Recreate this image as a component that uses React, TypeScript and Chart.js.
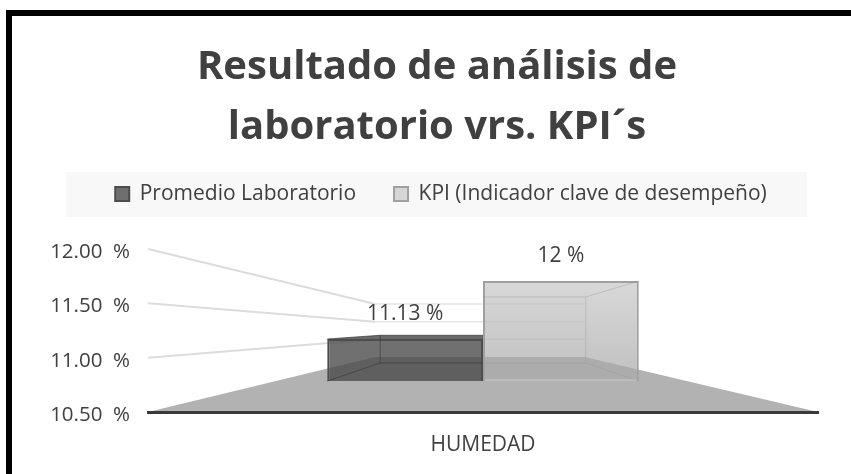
import React, { useEffect, useRef } from "react";
import { Chart, registerables } from "chart.js";

Chart.register(...registerables);

const categories = ["HUMEDAD"];
const seriesNames = ["Promedio Laboratorio", "KPI (Indicador clave de desempeño)"];
const promedio = [11.13];
const kpi = [12];
const valueLabels = ["11.13 %", "12 %"];
const gridValues = [12, 11.5, 11];
const titleLines = ["Resultado de análisis de", "laboratorio vrs. KPI´s"];
const FONT = "'Open Sans', sans-serif";
const TEXT = "#404040";

// Perspective of the 3D look, as fractions of the plot width
const WALL_LEFT = 0.339;
const WALL_RIGHT = 0.652;
const BOX_DEPTH = 0.34;

const perspective = {
  id: "perspective",
  afterLayout(chart: any) {
    // the legend sits slightly right of the title in the reference
    chart.legend.left += 4;
    chart.legend.right += 4;
  },
  beforeDraw(chart: any) {
    const { ctx } = chart;
    ctx.save();
    ctx.fillStyle = "#fff";
    ctx.fillRect(0, 0, chart.width, chart.height);
    // frame
    ctx.fillStyle = "#000";
    ctx.fillRect(6, 10, chart.width - 6, 6);
    ctx.fillRect(6, 10, 6, chart.height - 10);
    // legend band
    ctx.fillStyle = "#f8f8f8";
    ctx.fillRect(66, 172, 741, 45);
    ctx.restore();
  },
  beforeDatasetsDraw(chart: any) {
    const { ctx, chartArea: a, scales } = chart;
    const w = a.right - a.left;
    const xl = a.left + w * WALL_LEFT;
    const xr = a.left + w * WALL_RIGHT;
    const base = scales.y.min;
    ctx.save();
    // floor
    ctx.fillStyle = "#b2b2b2";
    ctx.beginPath();
    ctx.moveTo(a.left, scales.y.getPixelForValue(base));
    ctx.lineTo(a.right, scales.y.getPixelForValue(base));
    ctx.lineTo(xr, scales.yWall.getPixelForValue(base));
    ctx.lineTo(xl, scales.yWall.getPixelForValue(base));
    ctx.closePath();
    ctx.fill();
    // grid on the left wall and on the back wall
    gridValues.forEach((v) => {
      const y0 = scales.y.getPixelForValue(v);
      const y1 = scales.yWall.getPixelForValue(v);
      ctx.strokeStyle = "#dcdcdc";
      ctx.lineWidth = 2;
      ctx.beginPath();
      ctx.moveTo(a.left, y0);
      ctx.lineTo(xl, y1);
      ctx.stroke();
      ctx.strokeStyle = "#e6e6e6";
      ctx.lineWidth = 1.5;
      ctx.beginPath();
      ctx.moveTo(xl, y1);
      ctx.lineTo(xr, y1);
      ctx.stroke();
    });
    ctx.restore();
  },
  afterDatasetsDraw(chart: any) {
    const { ctx, scales } = chart;
    const base = scales.y.min;
    chart.data.datasets.forEach((ds: any, i: number) => {
      const bar = chart.getDatasetMeta(i).data[0];
      const center = (chart.getDatasetMeta(0).data[0].x + chart.getDatasetMeta(1).data[0].x) / 2;
      const half = bar.width / 2;
      const outer = i === 0 ? bar.x - half : bar.x + half;
      const inner = i === 0 ? bar.x + half : bar.x - half;
      const backOuter = outer + (center - outer) * BOX_DEPTH;
      const value = ds.data[0];
      const yTopFront = scales.yFront.getPixelForValue(value);
      const yBotFront = scales.yFront.getPixelForValue(base);
      const yTopBack = scales.yBack.getPixelForValue(value);
      const yBotBack = scales.yBack.getPixelForValue(base);
      ctx.save();
      if (i === 1) {
        // the light box darkens toward the floor
        const g = ctx.createLinearGradient(0, yTopFront, 0, yBotBack);
        g.addColorStop(0, "rgba(0,0,0,0)");
        g.addColorStop(1, "rgba(0,0,0,0.09)");
        ctx.fillStyle = g;
        ctx.fillRect(bar.x - half + 2, yTopFront + 2, bar.width - 4, yBotFront - yTopFront - 4);
      }
      ctx.strokeStyle = i === 0 ? "rgba(60,60,60,0.7)" : "rgba(150,150,150,0.4)";
      ctx.lineWidth = 1;
      ctx.beginPath();
      ctx.moveTo(outer, yTopFront);
      ctx.lineTo(backOuter, yTopBack);
      ctx.lineTo(inner, yTopBack);
      ctx.moveTo(outer, yBotFront);
      ctx.lineTo(backOuter, yBotBack);
      ctx.lineTo(inner, yBotBack);
      ctx.moveTo(backOuter, yTopBack);
      ctx.lineTo(backOuter, yBotBack);
      ctx.stroke();
      if (i === 0) {
        ctx.fillStyle = "rgba(55,55,55,0.75)";
        ctx.beginPath();
        ctx.moveTo(outer, yTopFront);
        ctx.lineTo(backOuter, yTopBack);
        ctx.lineTo(inner, yTopBack);
        ctx.lineTo(inner, yTopFront);
        ctx.closePath();
        ctx.fill();
      }
      // value label
      ctx.fillStyle = TEXT;
      ctx.font = `21px ${FONT}`;
      ctx.textAlign = "center";
      ctx.textBaseline = "middle";
      ctx.fillText(valueLabels[i], bar.x, yTopFront - 25);
      ctx.restore();
    });
  },
};

export default function App() {
  const ref = useRef<HTMLCanvasElement>(null);
  useEffect(() => {
    document.body.style.margin = "0";
    const chart = new Chart(ref.current!, {
      type: "bar",
      data: {
        labels: categories,
        datasets: [
          {
            label: seriesNames[0],
            data: promedio,
            base: 10.5,
            yAxisID: "yFront",
            backgroundColor: "rgba(72,72,72,0.78)",
            borderColor: "#4d4d4d",
            borderWidth: 2,
          },
          {
            label: seriesNames[1],
            data: kpi,
            base: 10.5,
            yAxisID: "yFront",
            backgroundColor: "rgba(195,195,195,0.65)",
            borderColor: "#a0a0a0",
            borderWidth: 2,
          },
        ],
      },
      options: {
        animation: false,
        responsive: false,
        layout: { padding: { left: 23, right: 0, top: 0, bottom: 0 } },
        datasets: { bar: { categoryPercentage: 0.465, barPercentage: 1 } },
        plugins: {
          tooltip: { enabled: false },
          title: {
            display: true,
            text: titleLines,
            color: TEXT,
            font: { family: FONT, size: 40, weight: "bold", lineHeight: 1.5 },
            padding: { top: 38, bottom: -12.5 },
          },
          subtitle: {
            display: true,
            text: "",
            weight: 500,
            font: { size: 34.5, lineHeight: 1 },
            padding: 0,
          },
          legend: {
            display: true,
            position: "top",
            labels: {
              color: TEXT,
              font: { family: FONT, size: 21 },
              boxWidth: 14,
              boxHeight: 14,
              padding: 38,
            },
          },
        },
        scales: {
          x: {
            grid: { display: false, drawTicks: false },
            border: { color: "#3a3a3a", width: 3, z: 1 },
            ticks: { color: TEXT, font: { family: FONT, size: 21 }, padding: 20 },
            afterFit(s: any) {
              s.height = 62;
            },
          },
          y: {
            min: 10.5,
            max: 12,
            grid: { display: false, drawTicks: false },
            border: { display: false },
            ticks: {
              stepSize: 0.5,
              color: TEXT,
              font: { family: FONT, size: 20.5 },
              padding: 18,
              labelOffset: 3,
              callback: (v: any) => `${Number(v).toFixed(2)}  %`,
            },
            afterFit(s: any) {
              s.width = 125;
            },
          },
          yFront: { display: false, min: 10.035, max: 12.48 },
          yBack: { display: false, min: 9.386, max: 13.09 },
          yWall: {
            position: "right",
            min: 8.943,
            max: 13.557,
            grid: { display: false, drawTicks: false },
            border: { display: false },
            ticks: { display: false },
            afterFit(s: any) {
              s.width = 33;
            },
          },
        },
      } as any,
      plugins: [perspective],
    });
    return () => chart.destroy();
  }, []);
  return <canvas ref={ref} width={851} height={474} style={{ display: "block" }} />;
}
